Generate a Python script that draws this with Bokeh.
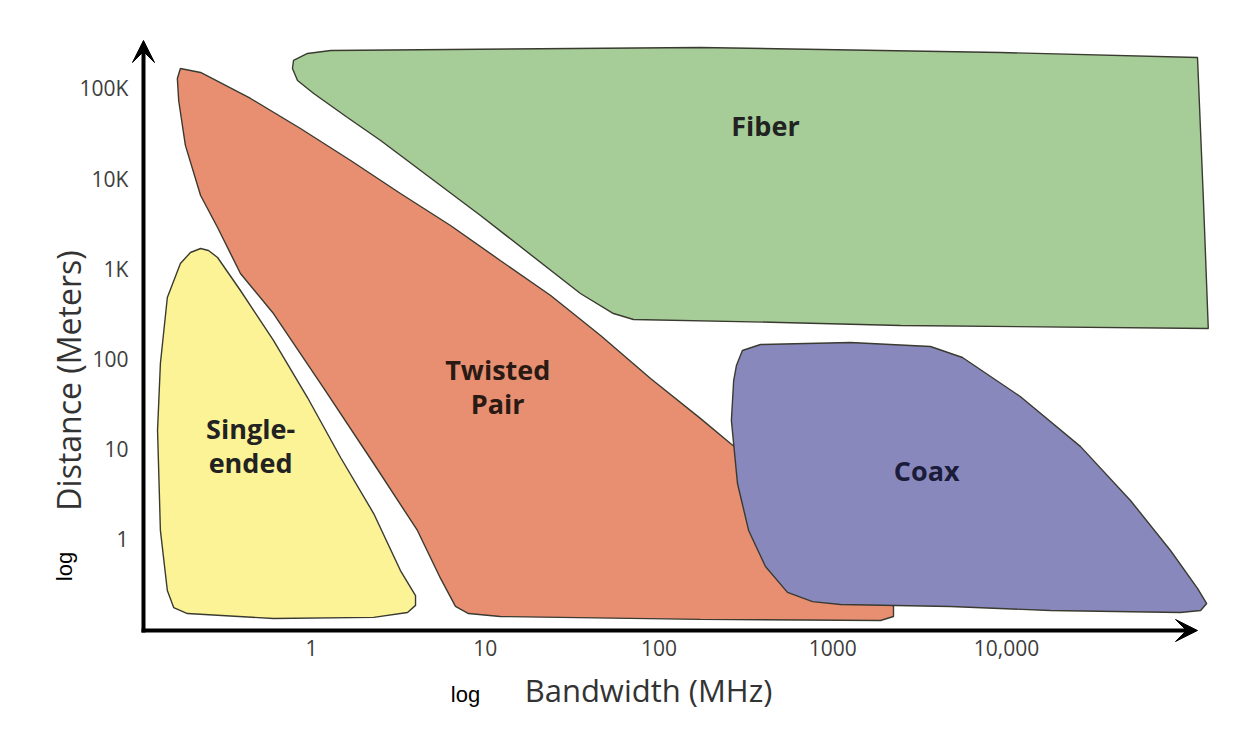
from bokeh.plotting import figure
from bokeh.models import Range1d, FixedTicker, Arrow, VeeHead
from bokeh.core.properties import value
from bokeh.embed import file_html
from bokeh.resources import INLINE

# ---- data: region outlines (bandwidth in MHz, distance in meters) ----
fiber_bw = [1.29, 173, 9240, 125700, 136000, 145000, 2460, 500, 71.3, 54.7, 35.3,
            9.39, 2.50, 1.61, 1.03, 0.831, 0.777, 0.788, 0.948]
fiber_dist = [263800, 284800, 250700, 220700, 5730, 218, 236, 255, 275, 320, 534,
              3910, 26500, 47700, 88000, 122700, 166600, 204400, 244400]

twisted_bw = [0.176, 0.230, 0.446, 0.864, 1.68, 3.25, 6.31, 12.2, 23.8, 46.1, 89.4,
              173, 258, 571, 1265, 1883, 2237, 2237, 1883, 173, 12.2, 8.01, 6.74,
              5.53, 4.07, 2.28, 1.17, 0.604, 0.390, 0.288, 0.230, 0.188, 0.172, 0.169]
twisted_dist = [166600, 150500, 77500, 36000, 15900, 6850, 3030, 1240, 507, 183, 61.0,
                22.0, 11.6, 3.49, 0.755, 0.272, 0.181, 0.140, 0.1265, 0.130, 0.140,
                0.151, 0.181, 0.370, 1.26, 6.96, 48.4, 320, 889, 2880, 6510, 23400,
                73600, 129000]

single_bw = [0.230, 0.2554, 0.288, 0.390, 0.604, 0.948, 1.47, 2.28, 3.25, 3.97, 3.97,
             3.57, 2.28, 0.604, 0.193, 0.161, 0.148, 0.135, 0.130, 0.135, 0.148,
             0.176, 0.201]
single_dist = [1684, 1600, 1338, 576, 161, 37.5, 8.11, 1.94, 0.453, 0.239, 0.186,
               0.155, 0.137, 0.133, 0.151, 0.176, 0.272, 1.26, 16.2, 89.4, 482,
               1148, 1520]

coax_bw = [279, 302, 384, 1265, 3650, 5580, 12000, 26700, 51700, 87900, 126000,
           142000, 131000, 100000, 17900, 4760, 1110, 765, 549, 410, 328, 283, 261, 269]
coax_dist = [84.9, 124.6, 145.2, 152.8, 137.9, 104.2, 38.5, 10.7, 2.71, 0.755, 0.286,
             0.195, 0.163, 0.155, 0.163, 0.181, 0.190, 0.205, 0.259, 0.502, 1.26,
             4.18, 20.9, 57.9]

region_names = ["Fiber", "Twisted\nPair", "Single-\nended", "Coax"]
region_colors = ["#a6cd98", "#e88f72", "#fcf296", "#8888bd"]
region_text_colors = ["#222222", "#2a1a14", "#222222", "#1b1b3a"]
label_bw = [410, 11.8, 0.446, 3470]
label_dist = [38890, 49.7, 11.0, 5.82]

x_ticks = [1, 10, 100, 1000, 10000]
x_tick_labels = ["1", "10", "100", "1000", "10,000"]
y_ticks = [1, 10, 100, 1000, 10000, 100000]
y_tick_labels = ["1", "10", "100", "1K", "10K", "100K"]

x_title = "Bandwidth (MHz)"
y_title = "Distance (Meters)"

# axis origin (where the two arrows meet)
origin_bw = 0.1079
origin_dist = 0.098

# ---- figure ----
p = figure(width=1229, height=725, x_axis_type="log", y_axis_type="log",
           x_range=Range1d(0.01622, 192100), y_range=Range1d(0.008667, 945400),
           output_backend="svg", toolbar_location=None,
           min_border_left=0, min_border_right=0, min_border_top=0,
           min_border_bottom=0)
p.grid.visible = False
p.outline_line_color = None
p.background_fill_color = "white"
p.border_fill_color = "white"

for ax in (p.xaxis[0], p.yaxis[0]):
    ax.axis_line_color = None
    ax.major_tick_line_color = None
    ax.minor_tick_line_color = None
    ax.major_tick_out = 0
    ax.major_tick_in = 0
    ax.major_label_text_font = "Open Sans"
    ax.major_label_text_font_size = "21px"
    ax.major_label_text_color = "#3d3d3d"

p.xaxis.ticker = FixedTicker(ticks=x_ticks)
p.xaxis.major_label_overrides = dict(zip(x_ticks, x_tick_labels))
p.xaxis.major_label_standoff = 10
p.xaxis.fixed_location = origin_dist
p.yaxis.ticker = FixedTicker(ticks=y_ticks)
p.yaxis.major_label_overrides = dict(zip(y_ticks, y_tick_labels))
p.yaxis.major_label_standoff = 15
p.yaxis.fixed_location = origin_bw

# regions
p.patches(xs=[fiber_bw, twisted_bw, single_bw, coax_bw],
          ys=[fiber_dist, twisted_dist, single_dist, coax_dist],
          fill_color=region_colors, line_color="#3a3a30", line_width=1.4)

p.text(x=label_bw, y=label_dist, text=region_names,
       text_font=value("Open Sans"), text_font_style="bold",
       text_font_size="27px", text_align="center", text_baseline="middle",
       text_color=region_text_colors, text_line_height=0.9)

# axis arrows
p.add_layout(Arrow(end=VeeHead(size=22, fill_color="black", line_color="black"),
                   x_start=0.1051, y_start=origin_dist, x_end=125700, y_end=origin_dist,
                   line_width=4, line_color="black"))
p.add_layout(Arrow(end=VeeHead(size=22, fill_color="black", line_color="black"),
                   x_start=origin_bw, y_start=0.0931, x_end=origin_bw, y_end=340600,
                   line_width=4, line_color="black"))

# axis titles and "log" notes
p.text(x=[87.0], y=[0.02118], text=[x_title], text_font=value("Open Sans"),
       text_font_size="31px", text_color="#333333",
       text_align="center", text_baseline="middle")
p.text(x=[0.0399], y=[57.9], text=[y_title], text_font=value("Open Sans"),
       text_font_size="32px", text_color="#333333", angle=1.5708,
       text_align="center", text_baseline="middle")
p.text(x=[7.70, 0.0379], y=[0.01913, 0.502], text=["log", "log"],
       angle=[0, 1.5708], text_font=value("Liberation Sans"),
       text_font_size="22px", text_color="black",
       text_align="center", text_baseline="middle")

open("out.html", "w").write(file_html(p, INLINE))
